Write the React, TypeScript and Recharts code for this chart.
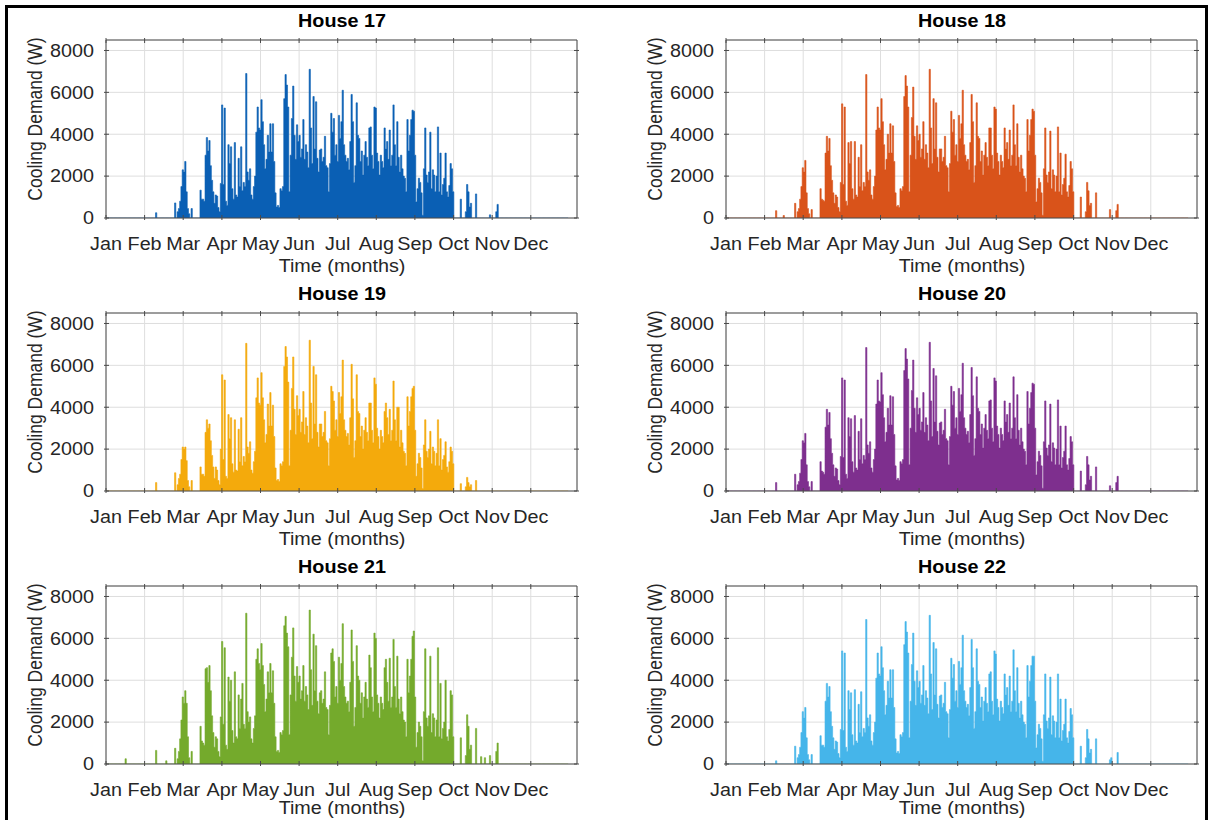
import React from "react";
import { AreaChart, Area, XAxis, YAxis, CartesianGrid } from "recharts";

// Axis ticks: twelve equal month steps across the year (x is day of year)
const MONTHS = ["Jan", "Feb", "Mar", "Apr", "May", "Jun", "Jul", "Aug", "Sep", "Oct", "Nov", "Dec"];
const MONTH_TICKS = [0, 30.4, 60.8, 91.3, 121.7, 152.1, 182.5, 212.9, 243.3, 273.8, 304.2, 334.6];
const DEMAND_TICKS = [0, 2000, 4000, 6000, 8000];
const X_MAX = 371;
const Y_MAX = 8500;

// Daily peak cooling demand (W), one value per day starting Jan 1
const HOUSE_17 = [
  0, 0, 0, 0, 0, 0, 0, 0, 0, 0,
  0, 0, 0, 0, 0, 0, 0, 0, 0, 0,
  0, 0, 0, 0, 0, 0, 0, 0, 0, 0,
  0, 0, 0, 0, 0, 0, 0, 0, 0, 250,
  0, 0, 0, 0, 0, 0, 0, 0, 0, 0,
  0, 0, 0, 0, 720, 0, 300, 450, 800, 1500,
  2300, 2200, 2700, 1250, 450, 200, 0, 450, 0, 0,
  0, 0, 0, 0, 1330, 900, 900, 800, 3000, 3840,
  3200, 3700, 2500, 1800, 1250, 700, 1100, 1050, 500, 300,
  1650, 5400, 1600, 5250, 800, 600, 3500, 2600, 3400, 1400,
  900, 3600, 1100, 1000, 2850, 1500, 3400, 1300, 1700, 1500,
  6900, 2200, 1800, 2350, 1100, 900, 1500, 2000, 4100, 5300,
  4300, 4200, 5650, 4600, 3500, 2350, 2800, 3950, 3150, 4500,
  3150, 4500, 2700, 1200, 530, 600, 500, 1400, 1300, 1500,
  5700, 6850, 6350, 5300, 1250, 3000, 4750, 6300, 3950, 2800,
  4450, 3650, 3950, 2900, 3300, 4700, 2800, 3500, 3150, 2400,
  7100, 4300, 2600, 5800, 3300, 5550, 2850, 2200, 3250, 3300,
  2700, 2900, 3900, 2500, 2400, 1250, 2600, 5000, 4100, 4750,
  3000, 3500, 2700, 4900, 3800, 4600, 6100, 3500, 3000, 2700,
  2850, 2300, 3650, 5900, 4600, 1700, 2500, 5500, 3950, 3800,
  2700, 3200, 2050, 3000, 3650, 2900, 2500, 4300, 4350, 3000,
  2350, 5300, 5250, 3100, 2700, 2050, 3000, 2700, 2400, 4300,
  3300, 3650, 2800, 4200, 2500, 3000, 5400, 3500, 2500, 4600,
  2900, 2200, 3000, 2350, 2000, 1900, 1250, 4700, 3200, 3950,
  4700, 5150, 5100, 3000, 770, 1400, 1900, 1700, 1200, 130,
  2350, 4300, 2050, 1700, 2200, 4100, 1400, 2300, 2050, 1250,
  2000, 4350, 1250, 3100, 1100, 1600, 1900, 3100, 1250, 1000,
  1550, 2600, 2350, 1250, 0, 0, 0, 0, 0, 900,
  0, 0, 0, 300, 1600, 1250, 530, 700, 0, 0,
  0, 1150, 0, 0, 0, 0, 0, 0, 0, 0,
  0, 0, 150, 0, 0, 0, 0, 300, 650, 0,
];

const HOUSE_18 = [
  0, 0, 0, 0, 0, 0, 0, 0, 0, 0,
  0, 0, 0, 0, 0, 0, 0, 0, 0, 0,
  0, 0, 0, 0, 0, 0, 0, 0, 0, 0,
  0, 0, 0, 0, 0, 0, 0, 0, 0, 350,
  0, 0, 0, 0, 0, 120, 0, 0, 0, 0,
  0, 0, 0, 0, 700, 0, 300, 450, 900, 1500,
  2400, 2200, 2750, 1200, 450, 200, 0, 400, 0, 0,
  0, 0, 0, 0, 1400, 900, 850, 800, 3100, 3900,
  3200, 3800, 2500, 1800, 1200, 700, 1100, 1000, 500, 300,
  1700, 5450, 1600, 5300, 800, 600, 3600, 2600, 3650, 1400,
  900, 3650, 1100, 1000, 2900, 1500, 3500, 1300, 1700, 1500,
  6850, 2200, 1800, 2300, 1100, 900, 1500, 2000, 4200, 5300,
  4300, 4200, 5700, 4600, 3500, 2300, 2800, 4000, 3100, 4500,
  3100, 4400, 2700, 1200, 550, 600, 500, 1400, 1300, 1500,
  5800, 6800, 6300, 5300, 1250, 3000, 4800, 6250, 3900, 2800,
  4400, 3700, 4000, 2900, 3300, 4600, 2800, 3500, 3100, 2400,
  7100, 4300, 2600, 5700, 3300, 5500, 2900, 2200, 3300, 3300,
  2700, 2900, 3900, 2500, 2400, 1250, 2600, 5100, 4100, 4700,
  3000, 3500, 2700, 4900, 3800, 4500, 6100, 3500, 3000, 2700,
  2800, 2300, 3600, 5900, 4600, 1700, 2500, 5500, 3900, 3800,
  2700, 3200, 2050, 3000, 3600, 2900, 2500, 4300, 4300, 3000,
  2350, 5300, 5200, 3100, 2700, 2050, 3000, 2700, 2400, 4300,
  3300, 3600, 2800, 4200, 2500, 3000, 5400, 3500, 2500, 4500,
  2900, 2200, 3000, 2350, 2000, 1900, 1250, 4700, 3200, 3950,
  4700, 5200, 5100, 3000, 770, 1400, 1900, 1700, 1200, 130,
  2350, 4300, 2050, 1700, 2200, 4150, 1400, 2300, 2050, 1250,
  2000, 4350, 1250, 3100, 1100, 1600, 1900, 3050, 1250, 1000,
  1550, 2700, 2350, 1250, 0, 0, 0, 0, 0, 1000,
  0, 0, 0, 300, 1700, 1300, 600, 700, 0, 0,
  0, 1200, 0, 0, 0, 0, 0, 0, 0, 0,
  0, 0, 400, 0, 0, 0, 0, 350, 650, 0,
];

const HOUSE_19 = [
  0, 0, 0, 0, 0, 0, 0, 0, 0, 0,
  0, 0, 0, 0, 0, 0, 0, 0, 0, 0,
  0, 0, 0, 0, 0, 0, 0, 0, 0, 0,
  0, 0, 0, 0, 0, 0, 0, 0, 0, 400,
  0, 0, 0, 0, 0, 0, 0, 0, 0, 0,
  0, 0, 0, 0, 870, 0, 300, 600, 800, 1500,
  2100, 2000, 2100, 1450, 500, 200, 0, 500, 0, 0,
  0, 0, 0, 0, 1150, 800, 800, 700, 2800, 3400,
  3000, 3200, 2400, 1700, 1150, 600, 1150, 1000, 500, 300,
  2000, 5550, 1500, 5300, 700, 600, 3650, 2500, 3500, 1300,
  900, 3400, 1000, 950, 2950, 1400, 3500, 1200, 1650, 1400,
  7050, 2100, 1800, 2350, 1000, 850, 1400, 1900, 4450, 5400,
  4200, 4100, 5650, 4450, 3400, 2300, 2700, 4150, 3100, 4700,
  3100, 4100, 2600, 1100, 500, 550, 450, 1300, 1200, 1400,
  5950, 6900, 6400, 5200, 1200, 2900, 4900, 6400, 3900, 2700,
  4550, 3600, 3900, 2800, 3300, 4750, 2700, 3500, 3100, 2300,
  7200, 4200, 2500, 5950, 3200, 5550, 2800, 2100, 3200, 3200,
  2600, 2800, 3800, 2400, 2300, 1200, 2500, 5000, 4750, 4300,
  2900, 3400, 2600, 4700, 3700, 4500, 6250, 3400, 2900, 2600,
  2750, 2200, 3500, 6050, 4400, 1600, 2400, 5550, 3800, 3700,
  2600, 3100, 2000, 2900, 3500, 2800, 2400, 4200, 4200, 2900,
  2300, 5400, 5100, 3000, 2600, 2000, 2900, 2600, 2300, 3800,
  4200, 3500, 2700, 3900, 2400, 2900, 5250, 3400, 2400, 4000,
  4000, 2100, 2900, 2300, 1900, 1800, 1200, 4500, 3100, 3800,
  4500, 4900, 5000, 2900, 700, 1300, 1800, 1600, 1100, 120,
  2200, 3400, 1900, 1600, 2000, 2850, 1300, 2100, 1900, 1200,
  1800, 3400, 1200, 2500, 1000, 1500, 1700, 2350, 1150, 900,
  1400, 2100, 1900, 1300, 0, 0, 0, 0, 0, 350,
  0, 0, 0, 200, 650, 400, 200, 300, 0, 0,
  0, 500, 0, 0, 0, 0, 0, 0, 0, 0,
];

const HOUSE_20 = [
  0, 0, 0, 0, 0, 0, 0, 0, 0, 0,
  0, 0, 0, 0, 0, 0, 0, 0, 0, 0,
  0, 0, 0, 0, 0, 0, 0, 0, 0, 0,
  0, 0, 0, 0, 0, 0, 0, 0, 0, 400,
  0, 0, 0, 0, 0, 0, 0, 0, 0, 0,
  0, 0, 0, 0, 800, 0, 300, 450, 850, 1500,
  2400, 2300, 2750, 1250, 450, 200, 0, 450, 0, 0,
  0, 0, 0, 0, 1400, 950, 900, 800, 3050, 3900,
  3150, 3750, 2500, 1800, 1250, 700, 1100, 1050, 500, 300,
  1650, 5400, 1600, 5300, 800, 600, 3500, 2600, 3450, 1400,
  900, 3600, 1100, 1000, 2850, 1500, 3450, 1300, 1700, 1500,
  6850, 2200, 1800, 2350, 1100, 900, 1500, 2000, 4150, 5300,
  4300, 4250, 5650, 4600, 3500, 2350, 2800, 3950, 3150, 4550,
  3150, 4500, 2700, 1200, 530, 600, 500, 1400, 1300, 1500,
  5750, 6800, 6300, 5350, 1250, 3000, 4800, 6250, 3950, 2800,
  4450, 3650, 3950, 2900, 3300, 4700, 2800, 3500, 3150, 2400,
  7100, 4300, 2600, 5850, 3300, 5500, 2850, 2200, 3250, 3300,
  2700, 2900, 3900, 2500, 2400, 1250, 2600, 5000, 4100, 4750,
  3000, 3500, 2700, 4900, 3800, 4600, 6100, 3500, 3000, 2700,
  2850, 2300, 3650, 5900, 4550, 1700, 2500, 5450, 3950, 3800,
  2700, 3200, 2050, 3000, 3650, 2900, 2500, 4300, 4350, 3000,
  2350, 5400, 5250, 3100, 2700, 2050, 3000, 2700, 2400, 4300,
  3300, 3650, 2800, 4200, 2500, 3000, 5450, 3500, 2500, 4600,
  2900, 2200, 3000, 2350, 2000, 1900, 1250, 4750, 3200, 3950,
  4700, 5150, 5100, 3000, 770, 1400, 1900, 1700, 1200, 130,
  2350, 4300, 2050, 1700, 2200, 4150, 1400, 2300, 2050, 1250,
  2000, 4350, 1250, 3100, 1100, 1600, 1900, 3100, 1250, 1000,
  1550, 2600, 2350, 1250, 0, 0, 0, 0, 0, 950,
  0, 0, 0, 300, 1650, 1250, 530, 700, 0, 0,
  0, 1150, 0, 0, 0, 0, 0, 0, 0, 0,
  0, 0, 250, 0, 0, 0, 0, 400, 700, 0,
];

const HOUSE_21 = [
  0, 0, 0, 0, 0, 0, 0, 0, 0, 0,
  0, 0, 0, 0, 0, 250, 0, 0, 0, 0,
  0, 0, 0, 0, 0, 0, 0, 0, 0, 0,
  0, 0, 0, 0, 0, 0, 0, 0, 0, 650,
  0, 0, 0, 0, 0, 0, 0, 150, 0, 0,
  0, 0, 0, 0, 750, 0, 250, 600, 1200, 2100,
  3200, 2900, 3500, 2900, 1300, 300, 0, 600, 0, 0,
  0, 0, 0, 0, 1800, 1100, 1000, 900, 4550, 4600,
  3900, 4700, 3500, 2300, 1500, 800, 1300, 1200, 600, 350,
  2250, 5850, 1900, 5550, 900, 700, 4150, 3000, 4000, 1600,
  1000, 4400, 1300, 1200, 3300, 1700, 3100, 3850, 1900, 1700,
  7200, 2500, 2000, 2250, 1200, 1000, 1700, 2300, 5000, 5500,
  4800, 4500, 5750, 4700, 3800, 2500, 3100, 4400, 3400, 4800,
  3400, 4450, 2900, 1300, 600, 650, 550, 1500, 1400, 1600,
  6600, 7050, 6250, 5600, 1400, 3300, 5100, 6500, 4200, 3000,
  4650, 3900, 4200, 3100, 3500, 4700, 3000, 3700, 3300, 2600,
  7350, 4500, 2800, 6200, 3500, 5650, 3000, 2400, 3400, 3500,
  2900, 3100, 4400, 2700, 2600, 1400, 2800, 5300, 5500, 4900,
  3200, 3700, 2900, 5100, 4000, 4800, 6700, 3700, 3200, 2900,
  3000, 2500, 3900, 6400, 4900, 1800, 2700, 5650, 4200, 4000,
  2900, 3400, 2200, 3200, 3900, 3100, 2700, 5200, 4600, 3200,
  2500, 6250, 6000, 3300, 2900, 2200, 3200, 2900, 2600, 4600,
  5000, 3900, 3000, 5050, 2700, 3200, 5950, 3700, 2700, 5150,
  3100, 2400, 3200, 2500, 2100, 2000, 1300, 5000, 3400, 4200,
  5000, 6100, 6350, 3200, 800, 1500, 2000, 1800, 1300, 150,
  2500, 5500, 2200, 1800, 2300, 5150, 1500, 2400, 2200, 1300,
  2100, 5550, 1300, 3850, 1200, 1700, 2000, 4000, 1300, 1100,
  1650, 3500, 3300, 1300, 0, 0, 0, 0, 0, 1250,
  0, 0, 0, 400, 2350, 1800, 700, 900, 0, 0,
  0, 1700, 0, 0, 0, 350, 0, 0, 300, 0,
  0, 0, 400, 0, 0, 0, 0, 600, 1000, 0,
];

const HOUSE_22 = [
  0, 0, 0, 0, 0, 0, 0, 0, 0, 0,
  0, 0, 0, 0, 0, 0, 0, 0, 0, 0,
  0, 0, 0, 0, 0, 0, 0, 0, 0, 0,
  0, 0, 0, 0, 0, 0, 0, 0, 0, 150,
  0, 0, 0, 0, 0, 0, 0, 0, 0, 0,
  0, 0, 0, 0, 850, 0, 300, 450, 800, 1500,
  2500, 2200, 2700, 1250, 450, 200, 0, 450, 0, 0,
  0, 0, 0, 0, 1350, 900, 900, 800, 3000, 3850,
  3200, 3700, 2500, 1800, 1250, 700, 1100, 1050, 500, 300,
  1650, 5400, 1600, 5300, 800, 600, 3500, 2600, 3400, 1400,
  900, 3550, 1100, 1000, 2850, 1500, 3450, 1300, 1700, 1500,
  6900, 2200, 1800, 2350, 1100, 900, 1500, 2000, 4100, 5300,
  4300, 4200, 5600, 4600, 3500, 2350, 2800, 3950, 3150, 4500,
  3150, 4500, 2700, 1200, 530, 600, 500, 1400, 1300, 1500,
  5700, 6800, 6300, 5300, 1250, 3000, 4750, 6250, 3950, 2800,
  4450, 3650, 3950, 2900, 3300, 4700, 2800, 3500, 3150, 2400,
  7100, 4300, 2600, 5800, 3300, 5500, 2850, 2200, 3250, 3300,
  2700, 2900, 3900, 2500, 2400, 1250, 2600, 5050, 4100, 4750,
  3000, 3500, 2700, 4900, 3800, 4600, 6150, 3500, 3000, 2700,
  2850, 2300, 3650, 5950, 4600, 1700, 2500, 5500, 3950, 3800,
  2700, 3200, 2050, 3000, 3650, 2900, 2500, 4300, 4400, 3000,
  2350, 5400, 5250, 3100, 2700, 2050, 3000, 2700, 2400, 4300,
  3300, 3650, 2800, 4200, 2500, 3000, 5450, 3500, 2500, 4600,
  2900, 2200, 3000, 2350, 2000, 1900, 1250, 4700, 3200, 3950,
  4700, 5150, 5150, 3000, 770, 1400, 1900, 1700, 1200, 130,
  2350, 4300, 2050, 1700, 2200, 4150, 1400, 2300, 2050, 1250,
  2000, 4300, 1250, 3100, 1100, 1600, 1900, 3100, 1250, 1000,
  1550, 2650, 2350, 1250, 0, 0, 0, 0, 0, 850,
  0, 0, 0, 300, 1650, 1200, 530, 700, 0, 0,
  0, 1200, 0, 0, 0, 0, 0, 0, 0, 0,
  0, 0, 200, 300, 0, 0, 0, 0, 550, 0,
];

const HOUSES = [
  { title: "House 17", color: "#0a5fb4", values: HOUSE_17 },
  { title: "House 18", color: "#d9531a", values: HOUSE_18 },
  { title: "House 19", color: "#f4aa0c", values: HOUSE_19 },
  { title: "House 20", color: "#7e2f8e", values: HOUSE_20 },
  { title: "House 21", color: "#74aa2c", values: HOUSE_21 },
  { title: "House 22", color: "#45b5ea", values: HOUSE_22 },
];

const FONT = "'Liberation Sans', Arial, Helvetica, sans-serif";
const INK = "#262626";
const BOX = "#4a4a4a";
const GRID = "#dedede";
const FONT_SIZE = 17.5;
const STRETCH = 1.13;

// panel geometry (each panel is its own chart)
const PANEL_W = 600;
const PANEL_H = 273;
const PLOT_LEFT = 106;
const PLOT_RIGHT = 577;
const PLOT_TOP = 40;
const PLOT_BOTTOM = 218;

const toRows = (values: number[]) =>
  Array.from({ length: 365 }, (_, day) => ({ day, demand: values[day] ?? 0 }));

function MonthTick(props: any) {
  const { x, y, payload } = props;
  const label = MONTHS[MONTH_TICKS.indexOf(payload.value)] ?? "";
  return (
    <g>
      <line x1={x} y1={y} x2={x} y2={y - 5} stroke={BOX} strokeWidth={1} />
      <text
        transform={`translate(${x} ${y + 30}) scale(${STRETCH} 1)`}
        textAnchor="middle"
        fontFamily={FONT}
        fontSize={FONT_SIZE}
        fill={INK}
      >
        {label}
      </text>
    </g>
  );
}

function DemandTick(props: any) {
  const { x, y, payload } = props;
  return (
    <g>
      <line x1={x} y1={y} x2={x + 5} y2={y} stroke={BOX} strokeWidth={1} />
      <text
        transform={`translate(${x - 10} ${y + 6.3}) scale(${STRETCH} 1)`}
        textAnchor="end"
        fontFamily={FONT}
        fontSize={FONT_SIZE}
        fill={INK}
      >
        {payload.value}
      </text>
    </g>
  );
}

function TopTick(props: any) {
  const { x, y } = props;
  return <line x1={x} y1={y} x2={x} y2={y + 5} stroke={BOX} strokeWidth={1} />;
}

function RightTick(props: any) {
  const { x, y } = props;
  return <line x1={x} y1={y} x2={x - 5} y2={y} stroke={BOX} strokeWidth={1} />;
}

function HousePanel({
  house,
  left,
  top,
  xLabelOffset,
}: {
  house: (typeof HOUSES)[number];
  left: number;
  top: number;
  xLabelOffset: number;
}) {
  const rows = toRows(house.values);
  const cx = (PLOT_LEFT + PLOT_RIGHT) / 2;
  const cy = (PLOT_TOP + PLOT_BOTTOM) / 2;
  const text: React.CSSProperties = {
    position: "absolute",
    fontFamily: FONT,
    fontSize: FONT_SIZE,
    color: INK,
    whiteSpace: "nowrap",
    lineHeight: 1,
  };
  return (
    <div style={{ position: "absolute", left, top, width: PANEL_W, height: PANEL_H }}>
      <AreaChart
        width={PANEL_W}
        height={PANEL_H}
        data={rows}
        margin={{ top: PLOT_TOP - 1, right: PANEL_W - PLOT_RIGHT - 1, bottom: PANEL_H - PLOT_BOTTOM - 30, left: 0 }}
      >
        <CartesianGrid stroke={GRID} strokeWidth={1} />
        <XAxis
          dataKey="day"
          type="number"
          domain={[0, X_MAX]}
          ticks={MONTH_TICKS}
          interval={0}
          allowDataOverflow
          height={30}
          tickSize={0}
          tickLine={false}
          axisLine={{ stroke: BOX }}
          tick={<MonthTick />}
        />
        <XAxis
          xAxisId="top"
          orientation="top"
          dataKey="day"
          type="number"
          domain={[0, X_MAX]}
          ticks={MONTH_TICKS}
          interval={0}
          allowDataOverflow
          height={1}
          tickSize={0}
          tickLine={false}
          axisLine={{ stroke: BOX }}
          tick={<TopTick />}
        />
        <YAxis
          type="number"
          domain={[0, Y_MAX]}
          ticks={DEMAND_TICKS}
          interval={0}
          allowDataOverflow
          width={PLOT_LEFT}
          tickSize={0}
          tickLine={false}
          axisLine={{ stroke: BOX }}
          tick={<DemandTick />}
        />
        <YAxis
          yAxisId="right"
          orientation="right"
          type="number"
          domain={[0, Y_MAX]}
          ticks={DEMAND_TICKS}
          interval={0}
          allowDataOverflow
          width={1}
          tickSize={0}
          tickLine={false}
          axisLine={{ stroke: BOX }}
          tick={<RightTick />}
        />
        <Area
          type="stepAfter"
          dataKey="demand"
          stroke={house.color}
          strokeWidth={0.6}
          fill={house.color}
          fillOpacity={1}
          dot={false}
          activeDot={false}
          isAnimationActive={false}
        />
      </AreaChart>
      <div
        style={{
          ...text,
          left: cx,
          top: PLOT_TOP - 18,
          fontWeight: "bold",
          color: "#000",
          transform: `translate(-50%, -50%) scaleX(${STRETCH})`,
        }}
      >
        {house.title}
      </div>
      <div
        style={{
          ...text,
          left: cx,
          top: PLOT_BOTTOM + xLabelOffset,
          transform: `translate(-50%, -50%) scaleX(${STRETCH})`,
        }}
      >
        Time (months)
      </div>
      <div
        style={{
          ...text,
          left: 36,
          top: cy - 10,
          transform: `translate(-50%, -50%) rotate(-90deg) scaleY(${STRETCH})`,
        }}
      >
        Cooling Demand (W)
      </div>
    </div>
  );
}

export default function App() {
  return (
    <div
      style={{
        position: "absolute",
        left: 0,
        top: 0,
        width: 1213,
        height: 820,
        overflow: "hidden",
        background: "#fff",
      }}
    >
      {HOUSES.map((house, i) => {
        const row = Math.floor(i / 2);
        return (
          <HousePanel
            key={house.title}
            house={house}
            left={(i % 2) * 620}
            top={row * 273}
            xLabelOffset={row === 2 ? 45 : 49}
          />
        );
      })}
      <div
        style={{
          position: "absolute",
          left: 5,
          top: 5,
          width: 1203,
          height: 900,
          border: "3px solid #000",
          boxSizing: "border-box",
          pointerEvents: "none",
        }}
      />
    </div>
  );
}
